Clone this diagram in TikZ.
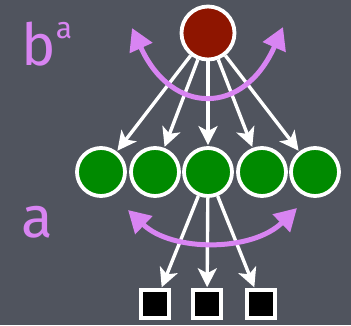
\documentclass[tikz,border=0pt]{standalone}
\usepackage{fontspec}
\setmainfont{Fira Sans}
\usetikzlibrary{arrows.meta}
\definecolor{slate}{HTML}{50545E}
\definecolor{rootred}{HTML}{8E1500}
\definecolor{leafgreen}{HTML}{008A00}
\definecolor{lilac}{HTML}{D884F2}
\tikzset{%
	every unit/.style={
		circle,
		draw=white,
		line width=3.8pt,
		minimum size=48pt,
		inner sep=0pt
	},
	out box/.style={
		rectangle,
		draw=white,
		fill=black,
		line width=3.5pt,
		minimum size=28pt,
		inner sep=0pt
	},
	link/.style={
		draw=white,
		line width=3.4pt,
		-{Stealth[length=19pt,width=19pt,inset=5pt]},
		shorten >=1pt
	},
	swing/.style={
		draw=lilac,
		line width=5pt,
		{Triangle[length=22pt,width=24pt]}-{Triangle[length=22pt,width=24pt]}
	},
	tag/.style={
		text=lilac,
		font=\fontsize{58}{58}\selectfont
	},
}
\begin{document}
\begin{tikzpicture}[x=1pt,y=-1pt]
				% Background
				\fill[slate] (0,0) rectangle (351,325);
				\useasboundingbox (0,0) rectangle (351,325);
				% Top unit
				\node[every unit, fill=rootred, minimum size=53pt] (Root) at (208,33) {};
				% Middle layer
				\foreach \i/\x in {1/101,2/155,3/208,4/262,5/315}
				{
					\node[every unit, fill=leafgreen] (Mid-\i) at (\x,172) {};
				}
				% Output boxes
				\foreach \i/\x in {1/155,2/207,3/261}
				{
					\node[out box] (Out-\i) at (\x,304) {};
				}
				% Connect top to middle
				\foreach \i in {1,...,5}
				{
					\draw[link] (Root) -- (Mid-\i);
				}
				% Connect middle to outputs
				\foreach \j in {1,...,3}
				{
					\draw[link] (Mid-3) -- (Out-\j);
				}
				% Swing arcs
				\coordinate (TopL) at (132,28);
				\coordinate (TopR) at (283,27);
				\coordinate (LowL) at (128,210);
				\coordinate (LowR) at (297,208);
				\draw[swing] (TopL) .. controls (172,116) and (244,116) .. (TopR);
				\draw[swing] (LowL) .. controls (172,252) and (252,252) .. (LowR);
				% Labels
				\node[tag, anchor=base west] (LabelB) at (18,65) {b\raisebox{0.45em}{\fontsize{30}{30}\selectfont a}};
				\node[tag, anchor=base west] (LabelA) at (18,237) {a};
			\end{tikzpicture}
\end{document}
